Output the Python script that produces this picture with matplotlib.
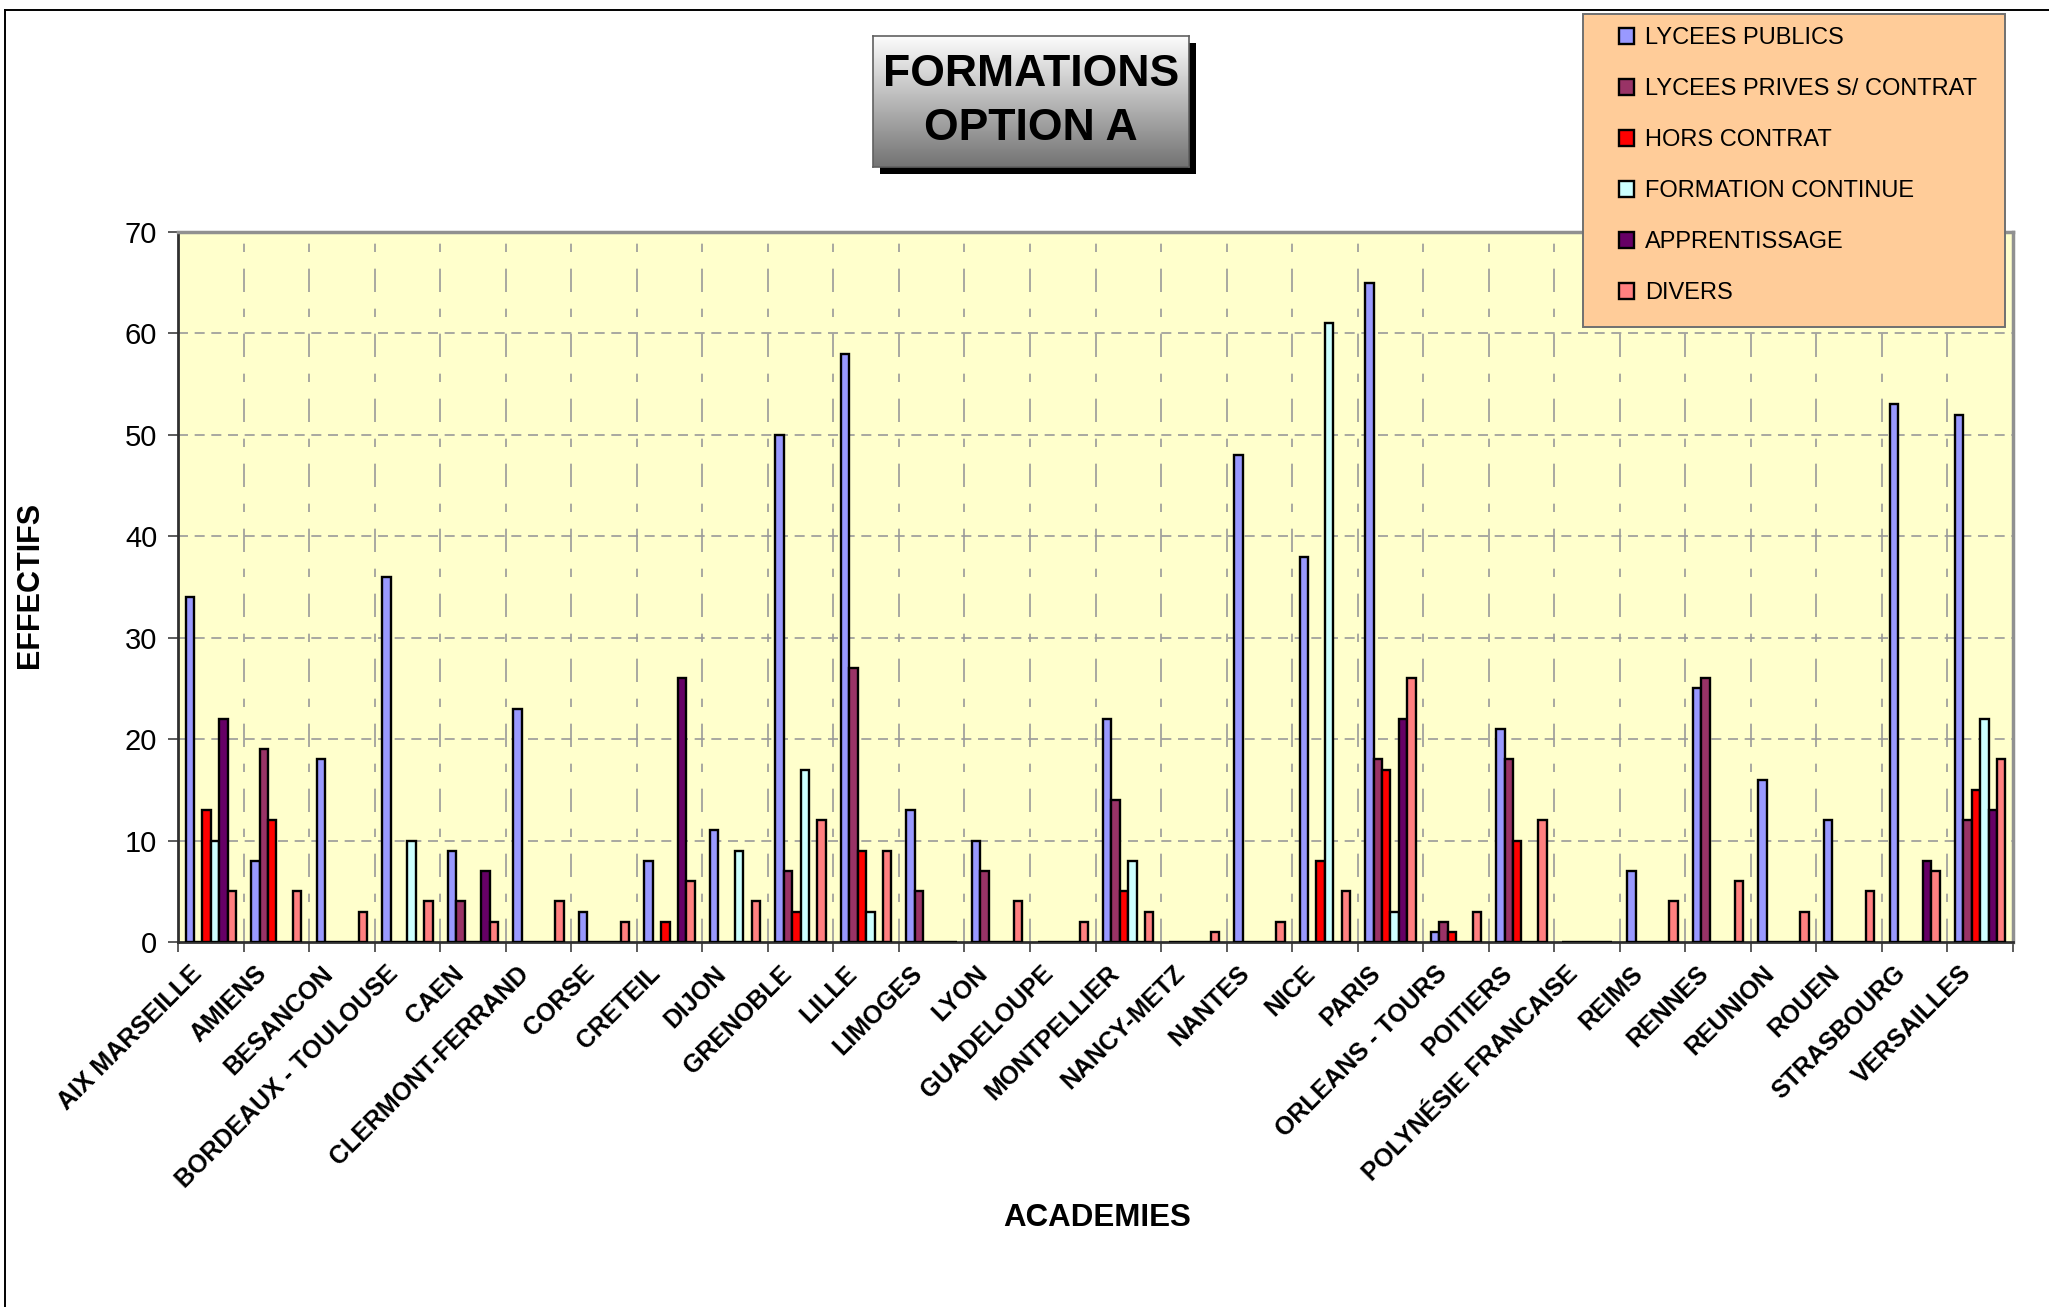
"""Formations option A : effectifs par academie."""
import matplotlib
matplotlib.use("Agg")
import matplotlib.pyplot as plt
import matplotlib.transforms as mtransforms
import numpy as np
from matplotlib.patches import Rectangle
from matplotlib.lines import Line2D

plt.rcParams["font.family"] = ["Liberation Sans", "DejaVu Sans"]

academies = ["AIX MARSEILLE", "AMIENS", "BESANCON", "BORDEAUX - TOULOUSE", "CAEN",
             "CLERMONT-FERRAND", "CORSE", "CRETEIL", "DIJON", "GRENOBLE", "LILLE",
             "LIMOGES", "LYON", "GUADELOUPE", "MONTPELLIER", "NANCY-METZ", "NANTES",
             "NICE", "PARIS", "ORLEANS - TOURS", "POITIERS", "POLYNÉSIE FRANCAISE",
             "REIMS", "RENNES", "REUNION", "ROUEN", "STRASBOURG", "VERSAILLES"]

lycees_publics = [34, 8, 18, 36, 9, 23, 3, 8, 11, 50, 58, 13, 10, 0, 22, 0, 48, 38, 65, 1,
                  21, 0, 7, 25, 16, 12, 53, 52]
lycees_prives = [0, 19, 0, 0, 4, 0, 0, 0, 0, 7, 27, 5, 7, 0, 14, 0, 0, 0, 18, 2,
                 18, 0, 0, 26, 0, 0, 0, 12]
hors_contrat = [13, 12, 0, 0, 0, 0, 0, 2, 0, 3, 9, 0, 0, 0, 5, 0, 0, 8, 17, 1,
                10, 0, 0, 0, 0, 0, 0, 15]
formation_continue = [10, 0, 0, 10, 0, 0, 0, 0, 9, 17, 3, 0, 0, 0, 8, 0, 0, 61, 3, 0,
                      0, 0, 0, 0, 0, 0, 0, 22]
apprentissage = [22, 0, 0, 0, 7, 0, 0, 26, 0, 0, 0, 0, 0, 0, 0, 0, 0, 0, 22, 0,
                 0, 0, 0, 0, 0, 0, 8, 13]
divers = [5, 5, 3, 4, 2, 4, 2, 6, 4, 12, 9, 0, 4, 2, 3, 1, 2, 5, 26, 3,
          12, 0, 4, 6, 3, 5, 7, 18]

series = ["LYCEES PUBLICS", "LYCEES PRIVES S/ CONTRAT", "HORS CONTRAT",
          "FORMATION CONTINUE", "APPRENTISSAGE", "DIVERS"]
values = [lycees_publics, lycees_prives, hors_contrat, formation_continue,
          apprentissage, divers]
colors = ["#9999FF", "#993366", "#FF0000", "#CCFFFF", "#660066", "#FF8080"]

W, H = 2049, 1307
fig = plt.figure(figsize=(W / 100, H / 100), dpi=100)
fig.patch.set_facecolor("white")


def fx(px):
    return px / W


def fy(py):
    return 1 - py / H


ax = fig.add_axes([fx(178), fy(942), fx(2013) - fx(178), fy(232) - fy(942)])
ax.set_facecolor("#FFFFCC")

x = np.arange(len(academies))
w = 0.128
bars = []
for k, (name, vals, col) in enumerate(zip(series, values, colors)):
    b = ax.bar(x + (k - 2.5) * w, vals, width=w, color=col, edgecolor="black",
               linewidth=1.7, label=name, zorder=3)
    bars.append(b)

ax.set_xlim(-0.5, len(academies) - 0.5)
ax.set_ylim(0, 70)
ax.set_yticks(range(0, 71, 10))
ax.tick_params(axis="y", labelsize=21, length=7, width=1.2, color="#404040", pad=8)

# category boundaries carry the tick marks and gridlines, centres carry labels
ax.set_xticks(np.arange(-0.5, len(academies), 1.0))
ax.set_xticklabels([])
ax.set_xticks(x, minor=True)
ax.set_xticklabels(academies, minor=True, rotation=45, ha="right", va="center",
                   rotation_mode="anchor", fontsize=18, fontweight="bold")
ax.tick_params(axis="x", which="major", length=7, width=1.2, color="#404040")
ax.tick_params(axis="x", which="minor", length=0, pad=20)
shift = mtransforms.ScaledTranslation(-13 / 100, 0, fig.dpi_scale_trans)
for lab in ax.get_xticklabels(minor=True):
    lab.set_transform(lab.get_transform() + shift)

for yv in range(10, 70, 10):
    ax.axhline(yv, color="#999999", linewidth=1.2, linestyle=(0, (6, 4)), zorder=1)
for xv in np.arange(0.5, len(academies) - 1, 1.0):
    ax.axvline(xv, color="#999999", linewidth=1.2, linestyle=(0, (14, 10, 5, 10)),
               zorder=1)

ax.spines["left"].set_color("#303030")
ax.spines["bottom"].set_color("#303030")
ax.spines["left"].set_linewidth(2)
ax.spines["bottom"].set_linewidth(2)
ax.spines["top"].set_color("#909090")
ax.spines["right"].set_color("#909090")
ax.spines["top"].set_linewidth(2.5)
ax.spines["right"].set_linewidth(2.5)

ax.set_ylabel("EFFECTIFS", fontsize=22, fontweight="bold", va="center")
ax.yaxis.set_label_coords((30 - 178) / 1835, (942 - 585) / 710)
ax.set_xlabel("ACADEMIES", fontsize=22.5, fontweight="bold", va="center")
ax.xaxis.set_label_coords((1097 - 178) / 1835, (942 - 1218) / 710)

# chart area border (left and top)
fig.add_artist(Line2D([fx(4.5), fx(4.5)], [0, fy(10)], color="black", linewidth=1.4))
fig.add_artist(Line2D([fx(4.5), 1], [fy(10), fy(10)], color="black", linewidth=1.4))

# title box with shadow and grey gradient
fig.patches.append(Rectangle((fx(880), fy(174)), fx(1196) - fx(880), fy(43) - fy(174),
                             transform=fig.transFigure, facecolor="black",
                             edgecolor="none", zorder=8))
tax = fig.add_axes([fx(873), fy(167), fx(1189) - fx(873), fy(36) - fy(167)], zorder=9)
grad = np.linspace(0.99, 0.45, 256).reshape(-1, 1)
tax.imshow(np.dstack([grad, grad, grad]), aspect="auto", extent=(0, 1, 0, 1))
tax.set_xlim(0, 1)
tax.set_ylim(0, 1)
tax.set_xticks([])
tax.set_yticks([])
for s in tax.spines.values():
    s.set_color("#606060")
    s.set_linewidth(1.2)
tax.text(0.5, 0.5, "FORMATIONS\nOPTION A", ha="center", va="center", fontsize=32,
         fontweight="bold", linespacing=1.4, transform=tax.transAxes)

# legend box
fig.patches.append(Rectangle((fx(1583), fy(327)), fx(2005) - fx(1583), fy(14) - fy(327),
                             transform=fig.transFigure, facecolor="#FFCC99",
                             edgecolor="#707070", linewidth=1.4, zorder=4))
leg = fig.legend(handles=bars, labels=series, loc="upper left",
                 bbox_to_anchor=(fx(1619), fy(27)), frameon=False, fontsize=17,
                 handlelength=0.65, handleheight=0.65, handletextpad=0.45,
                 labelspacing=1.23, borderpad=0, borderaxespad=0)
leg.set_zorder(6)

fig.savefig("out.png", dpi=100)
